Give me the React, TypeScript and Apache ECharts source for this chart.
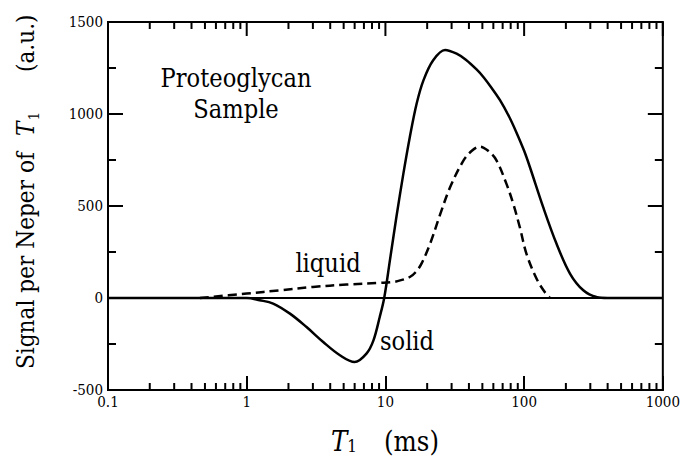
import React, { useEffect, useRef } from "react";
import * as echarts from "echarts";

// ---- data ----
const solidT = [0.1, 1.0, 1.24, 1.55, 2.05, 2.7, 3.56, 4.7, 6.0, 7.3, 8.2, 9.1, 9.8, 10.8, 12.0, 13.4, 15.0, 16.8, 18.8, 22.1, 26.9, 32.6, 38, 45.4, 51, 58.5, 67, 78, 88, 100, 110, 137, 171, 214, 267, 333, 400, 1000];
const solidS = [0, 0, -12, -30, -85, -158, -239, -311, -348, -302, -230, -103, 0, 210, 440, 665, 875, 1057, 1183, 1292, 1348, 1328, 1295, 1242, 1200, 1140, 1075, 985, 900, 800, 712, 495, 296, 133, 42, 5, 0, 0];

const liquidT = [0.46, 1.0, 1.74, 3.0, 5.25, 9.1, 11.4, 13.4, 15.0, 16.5, 18.2, 21, 24.7, 29.2, 36.4, 42, 48, 55, 63.2, 74.6, 83.4, 93, 104, 123, 140, 153];
const liquidS = [0, 24, 42, 60, 73, 82, 87, 100, 114, 140, 187, 295, 450, 600, 745, 800, 823, 800, 748, 620, 513, 386, 240, 105, 35, 3];

const zeroT = [0.1, 1000];
const zeroS = [0, 0];

const xMajorTicks = [0.1, 1, 10, 100, 1000];
const xTickLabels = ["0.1", "1", "10", "100", "1000"];
const xMinorTicks = [0.2, 0.3, 0.4, 0.5, 0.6, 0.7, 0.8, 0.9, 2, 3, 4, 5, 6, 7, 8, 9, 20, 30, 40, 50, 60, 70, 80, 90, 200, 300, 400, 500, 600, 700, 800, 900];
const yMajorTicks = [-500, 0, 500, 1000, 1500];
const yMinorTicks = [-250, 250, 750, 1250];

const FONT = "DejaVu Serif Condensed";

export default function App() {
  const ref = useRef<HTMLDivElement>(null);
  useEffect(() => {
    if (!ref.current) return;
    const chart = echarts.init(ref.current, null, { renderer: "svg" });

    const ctx = document.createElement("canvas").getContext("2d")!;
    const measure = (text: string, size: number, style = "normal") => {
      ctx.font = `${style} ${size}px "${FONT}"`;
      return ctx.measureText(text).width;
    };

    const axisLine = { show: true, onZero: false, lineStyle: { color: "#000", width: 2 } };

    chart.setOption({
      animation: false,
      textStyle: { fontFamily: FONT },
      grid: {
        left: 108,
        right: 20,
        top: 22,
        bottom: 67,
        show: true,
        borderColor: "#000",
        borderWidth: 2,
        backgroundColor: "transparent",
      },
      xAxis: [
        {
          type: "log",
          min: 0.1,
          max: 1000,
          axisLine,
          splitLine: { show: false },
          axisTick: { show: true, inside: true, length: 14, lineStyle: { color: "#000", width: 2 } },
          axisLabel: {
            show: true,
            color: "#000",
            fontSize: 15,
            fontFamily: FONT,
            margin: 4,
            formatter: (v: number) => {
              const i = xMajorTicks.findIndex((m) => Math.abs(Math.log10(m) - Math.log10(v)) < 1e-6);
              return i >= 0 ? xTickLabels[i] : "";
            },
          },
        },
      ],
      yAxis: [
        {
          type: "value",
          min: -500,
          max: 1500,
          interval: 500,
          axisLine,
          splitLine: { show: false },
          axisTick: { show: true, inside: true, length: 15, lineStyle: { color: "#000", width: 2 } },
          minorTick: { show: true, splitNumber: 2, length: 8, lineStyle: { color: "#000", width: 2 } },
          axisLabel: { show: true, color: "#000", fontSize: 15, fontFamily: FONT, margin: 5, formatter: (v: number) => String(v) },
        },
      ],
      series: [
        {
          type: "line",
          name: "zero",
          data: zeroT.map((t, i) => [t, zeroS[i]]),
          showSymbol: false,
          symbol: "none",
          lineStyle: { color: "#000", width: 2 },
          silent: true,
        },
        {
          type: "line",
          name: "liquid",
          data: liquidT.map((t, i) => [t, liquidS[i]]),
          showSymbol: false,
          symbol: "none",
          smooth: 0.35,
          lineStyle: { color: "#000", width: 2.5, type: [9, 5] },
          silent: true,
        },
        {
          type: "line",
          name: "solid",
          data: solidT.map((t, i) => [t, solidS[i]]),
          showSymbol: false,
          symbol: "none",
          smooth: 0.35,
          lineStyle: { color: "#000", width: 2.5 },
          silent: true,
        },
      ],
    });

    // mirrored ticks (top, right) and minor log ticks, placed through the axis scales
    const toPx = (x: number, y: number) => {
      const p = chart.convertToPixel({ xAxisIndex: 0, yAxisIndex: 0 }, [x, y]) as number[];
      return [p[0], p[1]];
    };
    const els: any[] = [];
    const w = 2;
    xMajorTicks.forEach((v) => {
      const t = toPx(v, 1500);
      els.push({ type: "rect", shape: { x: t[0] - w / 2, y: t[1], width: w, height: 14 }, style: { fill: "#000" } });
    });
    xMinorTicks.forEach((v) => {
      const b = toPx(v, -500);
      const t = toPx(v, 1500);
      els.push({ type: "rect", shape: { x: b[0] - w / 2, y: b[1] - 7, width: w, height: 7 }, style: { fill: "#000" } });
      els.push({ type: "rect", shape: { x: t[0] - w / 2, y: t[1], width: w, height: 7 }, style: { fill: "#000" } });
    });
    yMajorTicks.forEach((v) => {
      const r = toPx(1000, v);
      els.push({ type: "rect", shape: { x: r[0] - 15, y: r[1] - w / 2, width: 15, height: w }, style: { fill: "#000" } });
    });
    yMinorTicks.forEach((v) => {
      const r = toPx(1000, v);
      els.push({ type: "rect", shape: { x: r[0] - 8, y: r[1] - w / 2, width: 8, height: w }, style: { fill: "#000" } });
    });

    const T = (x: number, y: number, text: string, size: number, extra: any = {}, rot = 0) => ({
      type: "text",
      x,
      y,
      rotation: rot,
      style: { text, fontSize: size, fontFamily: FONT, fill: "#000", align: "left", verticalAlign: "middle", ...extra },
    });

    // font sizes fitted to the reference text widths
    const annSize = Math.min(30, (28 * 151) / measure("Proteoglycan", 28));
    const ySize = Math.min(30, (28 * 217) / measure("Signal per Neper of", 28));
    const xSize = Math.min(30, (27 * 55) / measure("(ms)", 27));
    const subY = ySize * 0.64;
    const subX = xSize * 0.62;

    const yT = 136;
    const yTw = measure("T", ySize, "italic");
    const xTw = measure("T", xSize, "italic");

    els.push(
      T(236, 78, "Proteoglycan", annSize, { align: "center" }),
      T(236, 109, "Sample", annSize, { align: "center" }),
      T(328, 263, "liquid", annSize, { align: "center" }),
      T(407, 341, "solid", annSize, { align: "center" }),
      T(331, 441, "T", xSize, { fontStyle: "italic" }),
      T(331 + xTw, 446, "1", subX),
      T(384, 441, "(ms)", xSize),
      T(26, 369, "Signal per Neper of", ySize, {}, Math.PI / 2),
      T(26, yT, "T", ySize, { fontStyle: "italic" }, Math.PI / 2),
      T(34, yT - yTw - 1, "1", subY, {}, Math.PI / 2),
      T(26, 72, "(a.u.)", ySize, {}, Math.PI / 2)
    );

    chart.setOption({ graphic: els });
    return () => chart.dispose();
  }, []);
  return (
    <div
      ref={ref}
      style={{ position: "absolute", left: 0, top: 0, width: 683, height: 457, background: "#fff" }}
    />
  );
}
